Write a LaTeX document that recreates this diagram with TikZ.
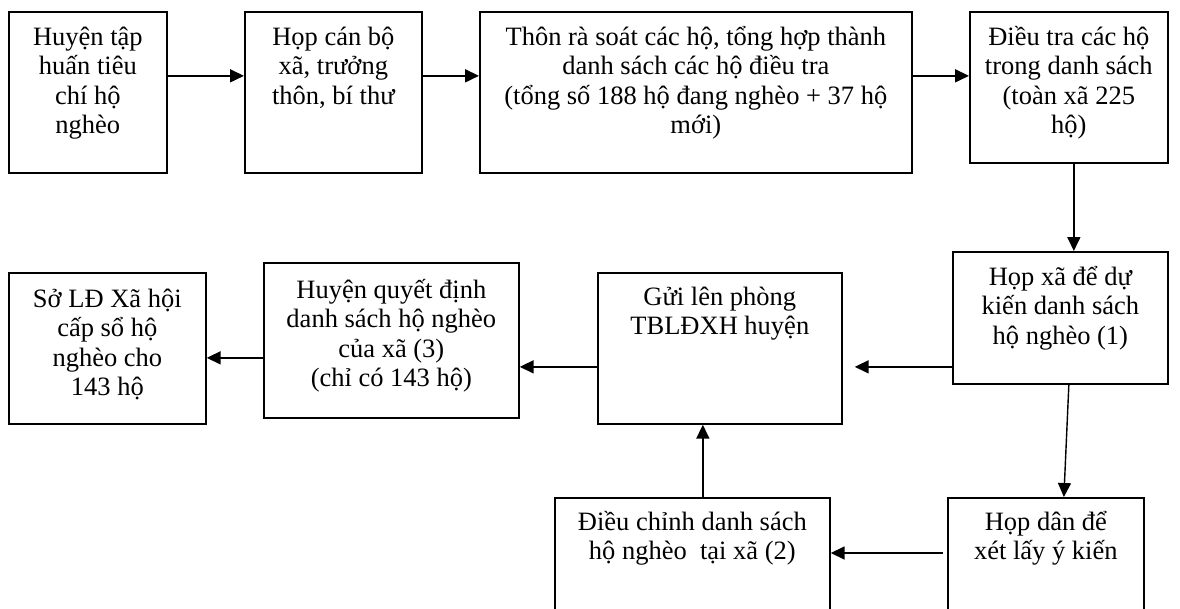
\documentclass[tikz,border=0pt]{standalone}
\usepackage{fontspec}
\setmainfont{Liberation Serif}
\usetikzlibrary{arrows.meta}
\tikzset{
  box/.style={draw, line width=1.7pt, rectangle, inner sep=0pt, anchor=north west},
  txt/.style={anchor=base, inner sep=0pt, font=\fontsize{26.5}{29.5}\selectfont},
  arr/.style={line width=1.7pt, -{Triangle[length=14pt,width=13pt]}},
}
\newcommand{\boxtext}[2]{\parbox[t]{#1}{\centering #2}}
\begin{document}
\begin{tikzpicture}[x=1pt,y=-1pt]
\useasboundingbox (0,0) rectangle (1180,608);
\clip (0,0) rectangle (1180,608);
\fill[white] (0,0) rectangle (1180,608);
% boxes
\node[box, minimum width=158pt, minimum height=161pt] (b1) at (8,11) {};
\node[box, minimum width=177pt, minimum height=161pt] (b2) at (244,11) {};
\node[box, minimum width=432pt, minimum height=161pt] (b3) at (479,11) {};
\node[box, minimum width=198pt, minimum height=151pt] (b4) at (969,11) {};
\node[box, minimum width=215pt, minimum height=132pt] (b5) at (952,251) {};
\node[box, minimum width=244pt, minimum height=151pt] (b6) at (597,272) {};
\node[box, minimum width=255pt, minimum height=155pt] (b7) at (263,262) {};
\node[box, minimum width=197pt, minimum height=151pt] (b8) at (8,272) {};
\node[box, minimum width=275pt, minimum height=130pt] (b9) at (554,497) {};
\node[box, minimum width=196pt, minimum height=130pt] (b10) at (947,497) {};
% texts
\node[txt] (t1) at ([yshift=-34pt]b1.north) {\boxtext{150pt}{Huyện tập\\huấn tiêu\\chí hộ\\nghèo}};
\node[txt] (t2) at ([yshift=-34pt]b2.north) {\boxtext{170pt}{Họp cán bộ\\xã, trưởng\\thôn, bí thư}};
\node[txt] (t3) at ([yshift=-34pt]b3.north) {\boxtext{425pt}{Thôn rà soát các hộ, tổng hợp thành\\danh sách các hộ điều tra\\(tổng số 188 hộ đang nghèo + 37 hộ\\mới)}};
\node[txt] (t4) at ([yshift=-34pt]b4.north) {\boxtext{190pt}{Điều tra các hộ\\trong danh sách\\(toàn xã 225\\hộ)}};
\node[txt] (t5) at ([yshift=-34pt]b5.north) {\boxtext{208pt}{Họp xã để dự\\kiến danh sách\\hộ nghèo (1)}};
\node[txt] (t6) at ([yshift=-33pt]b6.north) {\boxtext{236pt}{Gửi lên phòng\\TBLĐXH huyện}};
\node[txt] (t7) at ([yshift=-36pt]b7.north) {\boxtext{248pt}{Huyện quyết định\\danh sách hộ nghèo\\của xã (3)\\(chỉ có 143 hộ)}};
\node[txt] (t8) at ([yshift=-35pt]b8.north) {\boxtext{190pt}{Sở LĐ Xã hội\\cấp sổ hộ\\nghèo cho\\143 hộ}};
\node[txt] (t9) at ([yshift=-33pt]b9.north) {\boxtext{268pt}{Điều chỉnh danh sách\\hộ nghèo\ \ tại xã (2)}};
\node[txt] (t10) at ([yshift=-33pt]b10.north) {\boxtext{190pt}{Họp dân để\\xét lấy ý kiến}};
% helper coordinates
\coordinate (b6e) at ([xshift=12pt]b6.east);
\coordinate (b10w) at ([xshift=-4pt,yshift=-56pt]b10.north west);
% arrows
\draw[arr] ([yshift=16.5pt]b1.east) -- ([yshift=16.5pt]b1.east -| b2.west);
\draw[arr] ([yshift=16.5pt]b2.east) -- ([yshift=16.5pt]b2.east -| b3.west);
\draw[arr] ([yshift=16.5pt]b3.east) -- ([yshift=16.5pt]b3.east -| b4.west);
\draw[arr] ([xshift=5pt]b4.south) -- ([xshift=5pt]b4.south |- b5.north);
\draw[arr] ([yshift=-49pt]b5.west) -- ([yshift=-49pt]b5.west -| b6e);
\draw[arr, line width=1.4pt] ([xshift=8.5pt]b5.south) -- ([xshift=18pt]b10.north);
\draw[arr] (b10w) -- (b10w -| b9.east);
\draw[arr] ([xshift=10.5pt]b9.north) -- ([xshift=10.5pt]b9.north |- b6.south);
\draw[arr] ([yshift=-18.5pt]b6.west) -- ([yshift=-18.5pt]b6.west -| b7.east);
\draw[arr] ([yshift=-17.5pt]b7.west) -- ([yshift=-17.5pt]b7.west -| b8.east);
\end{tikzpicture}
\end{document}
